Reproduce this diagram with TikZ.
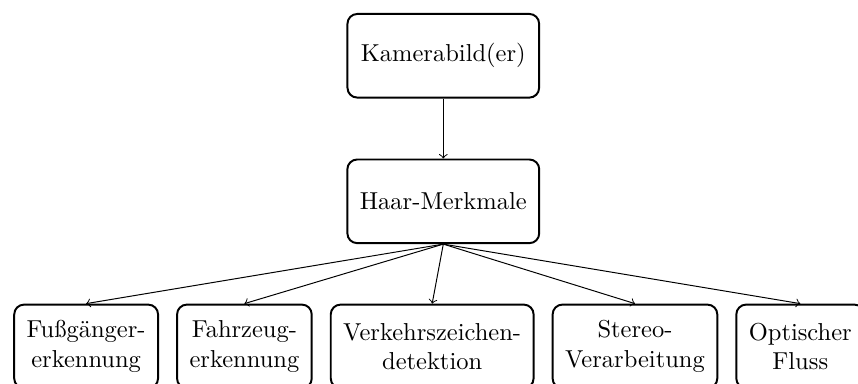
\documentclass[tikz,border=0pt]{standalone}
\usepackage{tikz}
\usetikzlibrary{positioning}

\begin{document}
\begin{tikzpicture}[
  box/.style={draw, thick, rounded corners=4pt, align=center,
              minimum height=1.2cm, inner xsep=5.1pt},
  link/.style={->}]
\useasboundingbox (0,0) rectangle (12.31,-5.50);

% ==================================================== top: input and features
\node[box, minimum width=2.75cm] (cam) at (6.36,-0.80) {Kamerabild(er)};
\node[box, minimum width=2.75cm, below=0.86cm of cam] (haar) {Haar-Merkmale};
\draw[link] (cam) -- (haar);

% ==================================================== bottom: what uses them
\node[box, anchor=west] (fuss) at (0.19,-4.97) {Fußgänger-\\erkennung};
\node[box, right=0.245cm of fuss] (fahr) {Fahrzeug-\\erkennung};
\node[box, right=0.245cm of fahr] (vz) {Verkehrszeichen-\\detektion};
\node[box, right=0.245cm of vz] (stereo) {Stereo-\\Verarbeitung};
\node[box, right=0.245cm of stereo] (fluss) {Optischer\\Fluss};

\foreach \n in {fuss,fahr,vz,stereo,fluss}
  \draw[link] (haar.south) -- (\n.north);

\end{tikzpicture}
\end{document}
